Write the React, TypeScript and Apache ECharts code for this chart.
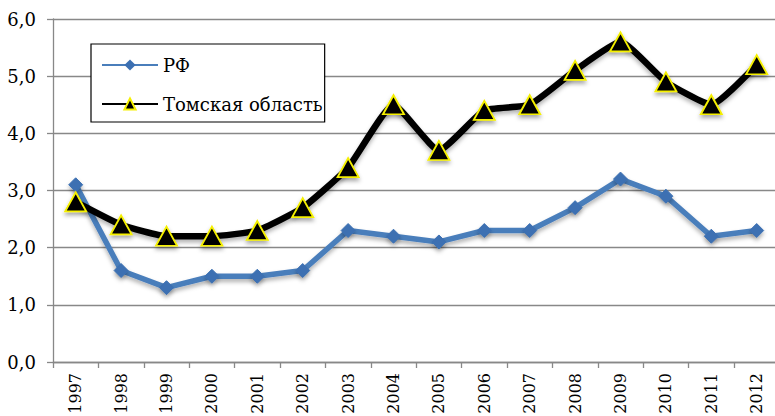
import React, { useEffect, useRef } from "react";
import * as echarts from "echarts";

const years = ["1997","1998","1999","2000","2001","2002","2003","2004","2005","2006","2007","2008","2009","2010","2011","2012"];
const rfValues = [3.1, 1.6, 1.3, 1.5, 1.5, 1.6, 2.3, 2.2, 2.1, 2.3, 2.3, 2.7, 3.2, 2.9, 2.2, 2.3];
const tomskValues = [2.8, 2.4, 2.2, 2.2, 2.3, 2.7, 3.4, 4.5, 3.7, 4.4, 4.5, 5.1, 5.6, 4.9, 4.5, 5.2];
const seriesNames = ["РФ", "Томская область"];

const FONT = "DejaVu Serif";

export default function App() {
  const ref = useRef<HTMLDivElement>(null);
  useEffect(() => {
    if (!ref.current) return;
    const chart = echarts.init(ref.current, undefined, { renderer: "svg" });
    chart.setOption({
      animation: false,
      backgroundColor: "#ffffff",
      textStyle: { fontFamily: FONT, color: "#000" },
      grid: { left: 53, right: -4.4, top: 19, bottom: 54, containLabel: false, outerBoundsMode: "none" },
      legend: {
        orient: "vertical",
        left: 91,
        top: 44,
        padding: [11, 2, 8, 10],
        borderColor: "#000",
        borderWidth: 1.2,
        backgroundColor: "#fff",
        itemWidth: 56,
        itemHeight: 14,
        itemGap: 19,
        itemStyle: { shadowBlur: 0, shadowOffsetX: 0, shadowOffsetY: 0 },
        lineStyle: { shadowBlur: 0, shadowOffsetX: 0, shadowOffsetY: 0 },
        itemTextGap: 3,
        textStyle: { fontFamily: FONT, fontSize: 18, color: "#000", lineHeight: 20 },
        data: seriesNames,
      },
      xAxis: {
        type: "category",
        data: years,
        boundaryGap: true,
        axisLine: { lineStyle: { color: "#888", width: 1.3 } },
        axisTick: { show: true, length: 6, lineStyle: { color: "#888", width: 1.3 } },
        axisLabel: {
          rotate: 90,
          margin: 11,
          interval: 0,
          fontFamily: FONT,
          fontSize: 16,
          color: "#000",
        },
        splitLine: { show: false },
      },
      yAxis: {
        type: "value",
        min: 0,
        max: 6,
        interval: 1,
        axisLine: { show: true, lineStyle: { color: "#888", width: 1.3 } },
        axisTick: { show: true, length: 6, lineStyle: { color: "#888", width: 1.3 } },
        axisLabel: {
          margin: 17,
          fontFamily: FONT,
          fontSize: 18,
          color: "#000",
          formatter: (v: number) => v.toFixed(1).replace(".", ","),
        },
        splitLine: { show: true, lineStyle: { color: "#888", width: 1.3 } },
      },
      series: [
        {
          name: seriesNames[0],
          type: "line",
          data: rfValues,
          symbol: "diamond",
          symbolSize: 14,
          lineStyle: {
            color: "#4A7EBB",
            width: 5.5,
            shadowColor: "rgba(0,0,0,0.3)",
            shadowBlur: 4,
            shadowOffsetY: 3,
          },
          itemStyle: {
            color: "#3C70B2",
            borderColor: "#3C70B2",
            shadowColor: "rgba(0,0,0,0.3)",
            shadowBlur: 4,
            shadowOffsetY: 3,
          },
          z: 2,
        },
        {
          name: seriesNames[1],
          type: "line",
          data: tomskValues,
          smooth: 0.15,
          symbol: "triangle",
          symbolSize: [21, 19],
          lineStyle: {
            color: "#000",
            width: 6.5,
            shadowColor: "rgba(0,0,0,0.3)",
            shadowBlur: 4,
            shadowOffsetY: 3,
          },
          itemStyle: {
            color: "#000",
            borderColor: "#F5F000",
            borderWidth: 1.8,
            shadowColor: "rgba(0,0,0,0.35)",
            shadowBlur: 4,
            shadowOffsetY: 3,
          },
          z: 3,
        },
      ],
    });
    return () => chart.dispose();
  }, []);
  return <div ref={ref} style={{ width: 775, height: 416, position: "absolute", left: 0, top: 0 }} />;
}
